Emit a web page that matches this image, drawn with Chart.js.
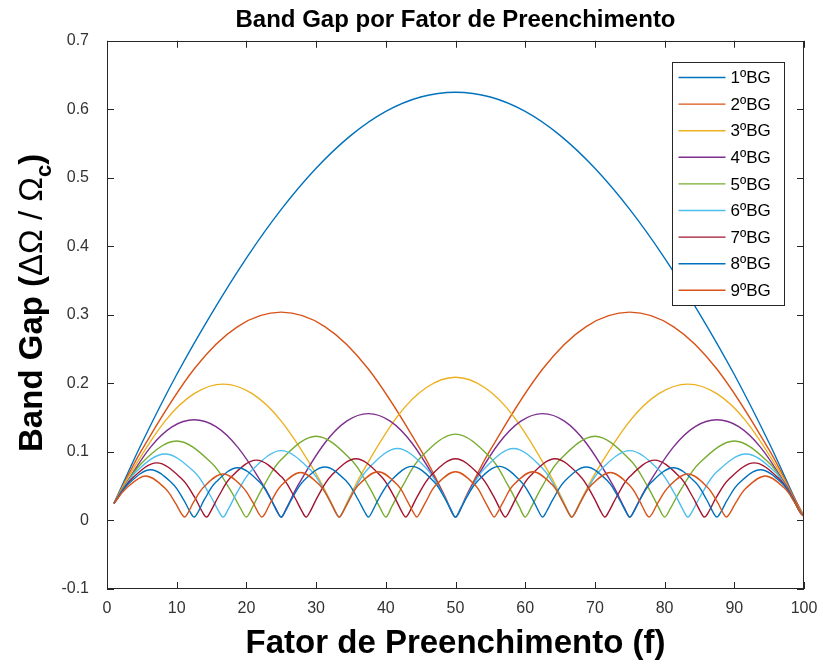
<!DOCTYPE html>
<html>
<head>
<meta charset="utf-8">
<script src="https://cdn.jsdelivr.net/npm/chart.js@4.4.0/dist/chart.umd.min.js"></script>
<style>
  html, body { margin: 0; padding: 0; background: #fff; }
</style>
</head>
<body>
<canvas id="bandGapChart" width="823" height="664"></canvas>
<script>
// Band gap curves (x = fill factor f, y = gap width)
const bg1X = [1, 5, 10, 15, 20, 25, 30, 35, 40, 45, 50, 55, 60, 65, 70, 75, 80, 85, 90, 95, 99, 100];
const bg1Y = [0.025, 0.113, 0.213, 0.302, 0.383, 0.454, 0.514, 0.562, 0.597, 0.618, 0.625, 0.618, 0.597, 0.562, 0.514, 0.454, 0.383, 0.302, 0.213, 0.113, 0.025, 0.006];

const bg2X = [1, 5, 12.5, 18.75, 25, 31.25, 37.5, 45, 48.5, 50, 51.5, 55, 62.5, 68.75, 75, 81.25, 87.5, 95, 98.5, 100];
const bg2Y = [0.025, 0.103, 0.221, 0.283, 0.304, 0.283, 0.221, 0.103, 0.035, 0.005, 0.035, 0.103, 0.221, 0.283, 0.304, 0.283, 0.221, 0.103, 0.035, 0.006];

const bg3X = [1, 3.33, 8.33, 12.5, 16.67, 20.83, 25, 30, 32.33, 33.33, 34.33, 36.67, 41.67, 45.83, 50, 54.17, 58.33, 63.33, 65.67, 66.67, 67.67, 70, 75, 79.17, 83.33, 87.5, 91.67, 96.67, 99, 100];
const bg3Y = [0.025, 0.068, 0.145, 0.185, 0.199, 0.185, 0.145, 0.068, 0.023, 0.005, 0.024, 0.071, 0.152, 0.194, 0.209, 0.194, 0.152, 0.071, 0.024, 0.005, 0.023, 0.068, 0.145, 0.185, 0.199, 0.185, 0.145, 0.068, 0.023, 0.006];

const bg4X = [1, 2.5, 6.25, 9.38, 12.5, 15.63, 18.75, 22.5, 24.25,
  25, 25.75, 27.5, 31.25, 34.38, 37.5, 40.63, 43.75, 47.5, 49.25,
  50, 50.75, 52.5, 56.25, 59.38, 62.5, 65.63, 68.75, 72.5, 74.25,
  75, 75.75, 77.5, 81.25, 84.38, 87.5, 90.63, 93.75, 97.5, 99.25, 100];
const bg4Y = [0.025, 0.050, 0.107, 0.137, 0.147, 0.137, 0.107, 0.050, 0.017,
  0.005, 0.018, 0.053, 0.113, 0.145, 0.156, 0.145, 0.113, 0.053, 0.018,
  0.005, 0.018, 0.053, 0.113, 0.145, 0.156, 0.145, 0.113, 0.053, 0.018,
  0.005, 0.017, 0.050, 0.107, 0.137, 0.147, 0.137, 0.107, 0.050, 0.017, 0.006];

const bg5X = [1, 5, 10, 15, 17.6, 19.2,
  20, 20.8, 22.4, 25, 30, 35, 37.6, 39.2,
  40, 40.8, 42.4, 45, 50, 55, 57.6, 59.2,
  60, 60.8, 62.4, 65, 70, 75, 77.6, 79.2,
  80, 80.8, 82.4, 85, 90, 95, 97.6, 99.2, 100];
const bg5Y = [0.025, 0.084, 0.116, 0.084, 0.046, 0.017,
  0.005, 0.018, 0.049, 0.089, 0.123, 0.089, 0.049, 0.018,
  0.005, 0.019, 0.050, 0.092, 0.126, 0.092, 0.050, 0.019,
  0.005, 0.018, 0.049, 0.089, 0.123, 0.089, 0.049, 0.018,
  0.005, 0.017, 0.046, 0.084, 0.116, 0.084, 0.046, 0.017, 0.006];

const bg6X = [1, 4.17, 8.33, 12.5, 14.67, 16,
  16.67, 17.33, 18.67, 20.83, 25, 29.17, 31.33, 32.67,
  33.33, 34, 35.33, 37.5, 41.67, 45.83, 48, 49.33,
  50, 50.67, 52, 54.17, 58.33, 62.5, 64.67, 66,
  66.67, 67.33, 68.67, 70.83, 75, 79.17, 81.33, 82.67,
  83.33, 84, 85.33, 87.5, 91.67, 95.83, 98, 99.33, 100];
const bg6Y = [0.025, 0.071, 0.097, 0.071, 0.039, 0.014,
  0.005, 0.015, 0.041, 0.074, 0.102, 0.074, 0.041, 0.015,
  0.005, 0.016, 0.042, 0.076, 0.105, 0.076, 0.042, 0.016,
  0.005, 0.016, 0.042, 0.076, 0.105, 0.076, 0.042, 0.016,
  0.005, 0.015, 0.041, 0.074, 0.102, 0.074, 0.041, 0.015,
  0.005, 0.014, 0.039, 0.071, 0.097, 0.071, 0.039, 0.014, 0.006];

const bg7X = [1, 3.57, 7.14, 10.71, 12.57, 13.71,
  14.29, 14.86, 16, 17.86, 21.43, 25, 26.86, 28,
  28.57, 29.14, 30.29, 32.14, 35.71, 39.29, 41.14, 42.29,
  42.86, 43.43, 44.57, 46.43, 50, 53.57, 55.43, 56.57,
  57.14, 57.71, 58.86, 60.71, 64.29, 67.86, 69.71, 70.86,
  71.43, 72, 73.14, 75, 78.57, 82.14, 84, 85.14,
  85.71, 86.29, 87.43, 89.29, 92.86, 96.43, 98.29, 99.43, 100];
const bg7Y = [0.025, 0.061, 0.084, 0.061, 0.034, 0.012,
  0.005, 0.013, 0.035, 0.064, 0.088, 0.064, 0.035, 0.013,
  0.005, 0.013, 0.036, 0.065, 0.090, 0.065, 0.036, 0.013,
  0.005, 0.013, 0.036, 0.065, 0.090, 0.065, 0.036, 0.013,
  0.005, 0.013, 0.036, 0.065, 0.090, 0.065, 0.036, 0.013,
  0.005, 0.013, 0.035, 0.064, 0.088, 0.064, 0.035, 0.013,
  0.005, 0.012, 0.034, 0.061, 0.084, 0.061, 0.034, 0.012, 0.006];

const bg8X = [1, 3.13, 6.25, 9.38, 11, 12,
  12.5, 13, 14, 15.63, 18.75, 21.88, 23.5, 24.5,
  25, 25.5, 26.5, 28.13, 31.25, 34.38, 36, 37,
  37.5, 38, 39, 40.63, 43.75, 46.88, 48.5, 49.5,
  50, 50.5, 51.5, 53.13, 56.25, 59.38, 61, 62,
  62.5, 63, 64, 65.63, 68.75, 71.88, 73.5, 74.5,
  75, 75.5, 76.5, 78.13, 81.25, 84.38, 86, 87,
  87.5, 88, 89, 90.63, 93.75, 96.88, 98.5, 99.5, 100];
const bg8Y = [0.025, 0.054, 0.074, 0.054, 0.030, 0.011,
  0.005, 0.011, 0.031, 0.056, 0.077, 0.056, 0.031, 0.011,
  0.005, 0.012, 0.031, 0.057, 0.078, 0.057, 0.031, 0.012,
  0.005, 0.012, 0.032, 0.057, 0.079, 0.057, 0.032, 0.012,
  0.005, 0.012, 0.032, 0.057, 0.079, 0.057, 0.032, 0.012,
  0.005, 0.012, 0.031, 0.057, 0.078, 0.057, 0.031, 0.012,
  0.005, 0.011, 0.031, 0.056, 0.077, 0.056, 0.031, 0.011,
  0.005, 0.011, 0.030, 0.054, 0.074, 0.054, 0.030, 0.011, 0.006];

const bg9X = [1, 2.78, 5.56, 8.33, 9.78, 10.67,
  11.11, 11.56, 12.44, 13.89, 16.67, 19.44, 20.89, 21.78,
  22.22, 22.67, 23.56, 25, 27.78, 30.56, 32, 32.89,
  33.33, 33.78, 34.67, 36.11, 38.89, 41.67, 43.11, 44,
  44.44, 44.89, 45.78, 47.22, 50, 52.78, 54.22, 55.11,
  55.56, 56, 56.89, 58.33, 61.11, 63.89, 65.33, 66.22,
  66.67, 67.11, 68, 69.44, 72.22, 75, 76.44, 77.33,
  77.78, 78.22, 79.11, 80.56, 83.33, 86.11, 87.56, 88.44,
  88.89, 89.33, 90.22, 91.67, 94.44, 97.22, 98.67, 99.56, 100];
const bg9Y = [0.025, 0.047, 0.065, 0.047, 0.026, 0.010,
  0.005, 0.010, 0.027, 0.049, 0.068, 0.049, 0.027, 0.010,
  0.005, 0.010, 0.028, 0.051, 0.070, 0.051, 0.028, 0.010,
  0.005, 0.011, 0.028, 0.052, 0.071, 0.052, 0.028, 0.011,
  0.005, 0.011, 0.028, 0.052, 0.071, 0.052, 0.028, 0.011,
  0.005, 0.011, 0.028, 0.052, 0.071, 0.052, 0.028, 0.011,
  0.005, 0.010, 0.028, 0.051, 0.070, 0.051, 0.028, 0.010,
  0.005, 0.010, 0.027, 0.049, 0.068, 0.049, 0.027, 0.010,
  0.005, 0.010, 0.026, 0.047, 0.065, 0.047, 0.026, 0.010, 0.006];

const seriesLabels = ['1ºBG', '2ºBG', '3ºBG', '4ºBG', '5ºBG', '6ºBG', '7ºBG', '8ºBG', '9ºBG'];
const seriesX = [bg1X, bg2X, bg3X, bg4X, bg5X, bg6X, bg7X, bg8X, bg9X];
const seriesY = [bg1Y, bg2Y, bg3Y, bg4Y, bg5Y, bg6Y, bg7Y, bg8Y, bg9Y];

// MATLAB default line colours (order repeats after 7)
const lineColors = ['#0072BD', '#D95319', '#EDB120', '#7E2F8E', '#77AC30', '#4DBEEE', '#A2142F', '#0072BD', '#D95319'];

const fontFamily = "'Liberation Sans', Arial, Helvetica, sans-serif";
const axisColor = '#262626';

const datasets = seriesLabels.map((label, i) => ({
  label: label,
  data: seriesX[i].map((x, j) => ({ x: x, y: seriesY[i][j] })),
  borderColor: lineColors[i],
  borderWidth: 1.4,
  pointRadius: 0,
  tension: 0.35,
  fill: false,
  order: seriesLabels.length - i   // later series drawn on top, like MATLAB
}));

// Box around the axes, inward ticks, legend and y title with subscript
const matlabLook = {
  id: 'matlabLook',
  afterDraw(chart) {
    const { ctx, chartArea: a, scales } = chart;
    const tickLen = 7;
    ctx.save();

    ctx.strokeStyle = axisColor;
    ctx.lineWidth = 1;
    ctx.strokeRect(Math.round(a.left) + 0.5, Math.round(a.top) + 0.5,
      Math.round(a.right - a.left) - 1, Math.round(a.bottom - a.top) - 1);

    ctx.beginPath();
    scales.x.ticks.forEach(t => {
      const px = Math.round(scales.x.getPixelForValue(t.value)) + 0.5;
      ctx.moveTo(px, a.bottom); ctx.lineTo(px, a.bottom - tickLen);
      ctx.moveTo(px, a.top); ctx.lineTo(px, a.top + tickLen);
    });
    scales.y.ticks.forEach(t => {
      const py = Math.round(scales.y.getPixelForValue(t.value)) + 0.5;
      ctx.moveTo(a.left, py); ctx.lineTo(a.left + tickLen, py);
      ctx.moveTo(a.right, py); ctx.lineTo(a.right - tickLen, py);
    });
    ctx.stroke();

    // legend box, top-right inside the axes
    const rowH = 26.6;
    const boxW = 112;
    const boxH = 243;
    const bx = Math.round(a.right - 20 - boxW) + 0.5;
    const by = Math.round(a.top + 21) + 0.5;
    ctx.fillStyle = '#ffffff';
    ctx.fillRect(bx, by, boxW, boxH);
    ctx.strokeStyle = '#262626';
    ctx.strokeRect(bx, by, boxW, boxH);
    ctx.font = '17px ' + fontFamily;
    ctx.textBaseline = 'middle';
    ctx.textAlign = 'left';
    chart.data.datasets.forEach((ds, i) => {
      const cy = by + 15 + i * rowH;
      ctx.strokeStyle = ds.borderColor;
      ctx.lineWidth = 1.4;
      ctx.beginPath();
      ctx.moveTo(bx + 6, cy); ctx.lineTo(bx + 53, cy);
      ctx.stroke();
      ctx.fillStyle = '#000';
      ctx.fillText(ds.label, bx + 58, cy + 1);
    });

    // y axis title: Band Gap (ΔΩ / Ω_c)
    const parts = [
      { text: 'Band Gap (', font: 'bold 33px ' + fontFamily, dy: 0 },
      { text: 'ΔΩ / Ω', font: '33px ' + fontFamily, dy: 0 },
      { text: 'c', font: 'bold 22px ' + fontFamily, dy: 9 },
      { text: ')', font: 'bold 33px ' + fontFamily, dy: 0 }
    ];
    let total = 0;
    parts.forEach(p => { ctx.font = p.font; p.w = ctx.measureText(p.text).width; total += p.w; });
    ctx.translate(30, (a.top + a.bottom) / 2 - 12);
    ctx.rotate(-Math.PI / 2);
    ctx.fillStyle = '#000';
    ctx.textBaseline = 'alphabetic';
    let px = -total / 2;
    parts.forEach(p => {
      ctx.font = p.font;
      ctx.fillText(p.text, px, 12 + p.dy);
      px += p.w;
    });

    ctx.restore();
  }
};

const ctx = document.getElementById('bandGapChart').getContext('2d');

const config = {
  type: 'line',
  data: { datasets: datasets },
  options: {
    responsive: false,
    animation: false,
    layout: { padding: { left: 0, right: 19, top: 0, bottom: 0 } },
    plugins: {
      legend: { display: false },
      tooltip: { enabled: false },
      title: {
        display: true,
        fullSize: false,
        text: 'Band Gap por Fator de Preenchimento',
        color: '#000',
        font: { family: fontFamily, size: 24, weight: 'bold', lineHeight: 1.2 },
        padding: { top: 6, bottom: 6 }
      }
    },
    scales: {
      x: {
        type: 'linear',
        min: 0,
        max: 100,
        grid: { display: false, drawTicks: false },
        border: { display: false },
        ticks: { stepSize: 10, color: '#333333', padding: 10, font: { family: fontFamily, size: 16 } },
        title: {
          display: true,
          text: 'Fator de Preenchimento (f)',
          color: '#000',
          font: { family: fontFamily, size: 33, weight: 'bold', lineHeight: 1.2 },
          padding: { top: 0, bottom: 0 }
        },
        afterFit(scale) {
          scale.height = 75;
          scale.paddingLeft = 0;
          scale.paddingRight = 0;
        }
      },
      y: {
        type: 'linear',
        min: -0.1,
        max: 0.7,
        grid: { display: false, drawTicks: false },
        border: { display: false },
        ticks: {
          stepSize: 0.1,
          color: '#333333',
          padding: 18,
          font: { family: fontFamily, size: 16 },
          callback: (v) => Math.abs(v) < 1e-9 ? '0' : String(Math.round(v * 10) / 10)
        },
        afterFit(scale) { scale.width = 107; }
      }
    }
  },
  plugins: [matlabLook]
};

const bandGapChart = new Chart(ctx, config);
</script>
</body>
</html>
